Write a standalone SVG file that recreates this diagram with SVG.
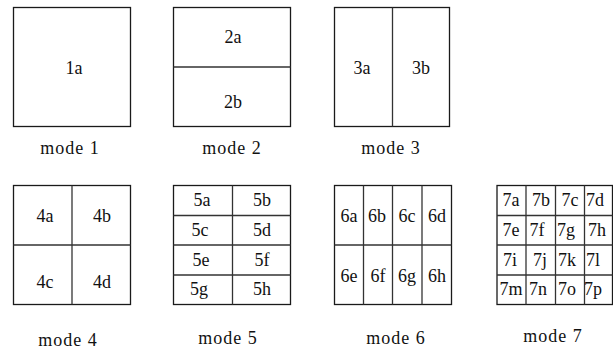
<svg xmlns="http://www.w3.org/2000/svg" width="613" height="351" viewBox="0 0 613 351">
<style>
.box{fill:#fff;stroke:#1a1a1a;stroke-width:1.3}
.ln{stroke:#333;stroke-width:1.3;fill:none}
.t text{font-size:18px;fill:#111;text-anchor:middle}
.cap{letter-spacing:1px}
</style>
<rect width="613" height="351" fill="#fff"/>
<g class="t" font-family="'Liberation Serif', 'DejaVu Serif', serif">
<g id="mode1">
<rect class="box" x="13.5" y="7.5" width="117" height="119"/>
<text x="74" y="74">1a</text>
<text class="cap" x="70" y="154">mode 1</text>
</g>
<g id="mode2">
<rect class="box" x="173.5" y="7.5" width="117" height="119"/>
<line class="ln" x1="173.5" y1="67" x2="290.5" y2="67"/>
<text x="233" y="43">2a</text>
<text x="233" y="108">2b</text>
<text class="cap" x="232" y="154">mode 2</text>
</g>
<g id="mode3">
<rect class="box" x="334.5" y="7.5" width="115" height="119"/>
<line class="ln" x1="392.5" y1="7.5" x2="392.5" y2="126.5"/>
<text x="362" y="74">3a</text>
<text x="421" y="74">3b</text>
<text class="cap" x="391" y="154">mode 3</text>
</g>
<g id="mode4">
<rect class="box" x="13.5" y="185.5" width="117" height="119"/>
<line class="ln" x1="13.5" y1="245" x2="130.5" y2="245"/>
<line class="ln" x1="72" y1="185.5" x2="72" y2="304.5"/>
<text x="45" y="222">4a</text>
<text x="102" y="222">4b</text>
<text x="45" y="288">4c</text>
<text x="102" y="288">4d</text>
<text class="cap" x="68" y="346">mode 4</text>
</g>
<g id="mode5">
<rect class="box" x="173.5" y="185.5" width="117" height="119"/>
<line class="ln" x1="173.5" y1="215.5" x2="290.5" y2="215.5"/>
<line class="ln" x1="173.5" y1="245" x2="290.5" y2="245"/>
<line class="ln" x1="173.5" y1="275" x2="290.5" y2="275"/>
<line class="ln" x1="232.5" y1="185.5" x2="232.5" y2="304.5"/>
<text x="202" y="206">5a</text>
<text x="262" y="206">5b</text>
<text x="200" y="236">5c</text>
<text x="262" y="236">5d</text>
<text x="201" y="266">5e</text>
<text x="262" y="266">5f</text>
<text x="199" y="295">5g</text>
<text x="262" y="295">5h</text>
<text class="cap" x="228" y="344">mode 5</text>
</g>
<g id="mode6">
<rect class="box" x="334.5" y="185.5" width="117" height="119"/>
<line class="ln" x1="334.5" y1="245" x2="451.5" y2="245"/>
<line class="ln" x1="363.5" y1="185.5" x2="363.5" y2="304.5"/>
<line class="ln" x1="392.5" y1="185.5" x2="392.5" y2="304.5"/>
<line class="ln" x1="422" y1="185.5" x2="422" y2="304.5"/>
<text x="349" y="222">6a</text>
<text x="377" y="222">6b</text>
<text x="407" y="222">6c</text>
<text x="437" y="222">6d</text>
<text x="349" y="282">6e</text>
<text x="378" y="282">6f</text>
<text x="407" y="282">6g</text>
<text x="437" y="282">6h</text>
<text class="cap" x="396" y="344">mode 6</text>
</g>
<g id="mode7">
<rect class="box" x="497" y="185.5" width="115.5" height="119"/>
<line class="ln" x1="497" y1="215.5" x2="612.5" y2="215.5"/>
<line class="ln" x1="497" y1="245" x2="612.5" y2="245"/>
<line class="ln" x1="497" y1="275" x2="612.5" y2="275"/>
<line class="ln" x1="526" y1="185.5" x2="526" y2="304.5"/>
<line class="ln" x1="555.5" y1="185.5" x2="555.5" y2="304.5"/>
<line class="ln" x1="584.5" y1="185.5" x2="584.5" y2="304.5"/>
<text x="511" y="206">7a</text>
<text x="541" y="206">7b</text>
<text x="570" y="206">7c</text>
<text x="595" y="206">7d</text>
<text x="511" y="236">7e</text>
<text x="537" y="236">7f</text>
<text x="566" y="236">7g</text>
<text x="597" y="236">7h</text>
<text x="510" y="266">7i</text>
<text x="540" y="266">7j</text>
<text x="567" y="266">7k</text>
<text x="593" y="266">7l</text>
<text x="511" y="295">7m</text>
<text x="538" y="295">7n</text>
<text x="567" y="295">7o</text>
<text x="593" y="295">7p</text>
<text class="cap" x="553" y="342">mode 7</text>
</g>
</g>
</svg>
